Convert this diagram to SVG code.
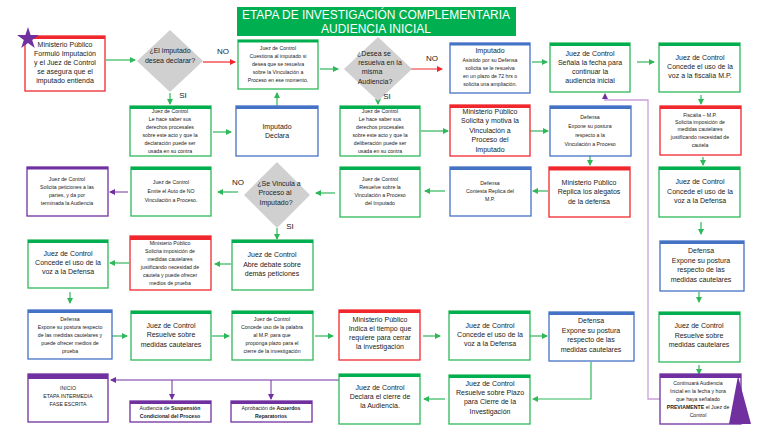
<svg xmlns="http://www.w3.org/2000/svg" width="768" height="433" viewBox="0 0 768 433">
<style>
.b{fill:#fff;stroke-width:1.3}
.g{stroke:#2fb85a}.r{stroke:#f0282d}.u{stroke:#4472c4}.p{stroke:#7030a0}
.gf{fill:#00b050}.rf{fill:#f0282d}.uf{fill:#4472c4}.pf{fill:#7030a0}
text{font-family:"Liberation Sans",Arial,sans-serif;text-anchor:middle;fill:#222}
.t{font-size:7px}.s{font-size:5.2px}.l{font-size:8px}
.d{fill:#d0d0d0}
.ag{stroke:#2fb85a;stroke-width:1.2;fill:none;marker-end:url(#mg)}
.ar{stroke:#f0282d;stroke-width:1.2;fill:none;marker-end:url(#mr)}
.ap{stroke:#7030a0;stroke-width:1;fill:none;marker-end:url(#mp)}
.al{stroke:#c9a0dc;stroke-width:1.3;fill:none;marker-end:url(#mp)}
</style>
<defs>
<marker id="mg" markerWidth="6" markerHeight="6" refX="5" refY="3" orient="auto" markerUnits="userSpaceOnUse"><path d="M0,0L6,3L0,6z" fill="#2fb85a"/></marker>
<marker id="mr" markerWidth="6" markerHeight="6" refX="5" refY="3" orient="auto" markerUnits="userSpaceOnUse"><path d="M0,0L6,3L0,6z" fill="#f0282d"/></marker>
<marker id="mp" markerWidth="6" markerHeight="6" refX="5" refY="3" orient="auto" markerUnits="userSpaceOnUse"><path d="M0,0L6,3L0,6z" fill="#7030a0"/></marker>
</defs>
<rect width="768" height="433" fill="#fff"/>
<g id="title"><rect x="237" y="7" width="279" height="29" class="gf"/>
<text x="376" y="19" style="font-size:12px;fill:#fff" textLength="268" lengthAdjust="spacingAndGlyphs">ETAPA DE INVESTIGACIÓN COMPLEMENTARIA</text>
<text x="376" y="33" style="font-size:12px;fill:#fff">AUDIENCIA INICIAL</text></g>

<g id="connectors">
<path class="ag" d="M106,60H135"/>
<path class="ar" d="M203,62H235"/>
<path class="ag" d="M320,69H338"/>
<path class="ar" d="M408,69H442"/>
<path class="ag" d="M532,62H547"/>
<path class="ag" d="M637,62H654"/>
<path class="ag" d="M170,93V104"/>
<path class="ag" d="M213,132H231"/>
<path class="ag" d="M277,106V93"/>
<path class="ag" d="M378,95V104"/>
<path class="ag" d="M421,131H448"/>
<path class="ag" d="M530,131H548"/>
<path class="ag" d="M590,156V165"/>
<path class="ag" d="M701,95V104"/>
<path class="ap" d="M128,192H110"/>
<path class="ag" d="M238,192H218"/>
<path class="ag" d="M335,193H316"/>
<path class="ag" d="M445,191H425"/>
<path class="ag" d="M548,191H533"/>
<path class="ag" d="M703,157V165"/>
<path class="al" d="M660,399H648V100H605V94"/>
<path class="ag" d="M701,222V234"/>
<path class="ag" d="M699,292V302"/>
<path class="ag" d="M699,365V374"/>
<path class="ag" d="M277,228V239"/>
<path class="ag" d="M231,264H215"/>
<path class="ag" d="M129,263H110"/>
<path class="ag" d="M70,292V303"/>
<path class="ag" d="M112,336H127"/>
<path class="ag" d="M212,336H229"/>
<path class="ag" d="M315,336H333"/>
<path class="ag" d="M423,336H440"/>
<path class="ag" d="M530,336H547"/>
<path class="ag" d="M591,362V399H533"/>
<path class="ag" d="M445,399H424"/>
<path class="ap" d="M339,380H111"/>
<path class="ap" d="M172,380V399"/>
<path class="ap" d="M271,380V399"/>
</g>

<g id="n1"><rect class="b r" x="25" y="36" width="80" height="55"/><rect class="rf" x="25" y="36" width="80" height="3"/>
<text class="t" x="65" y="47">Ministerio Público</text><text class="t" x="65" y="56">Formuló Imputación</text><text class="t" x="65" y="65">y el Juez de Control</text><text class="t" x="65" y="74">se asegura que el</text><text class="t" x="65" y="83">imputado entienda</text>
<path d="M28,27L30.6,35L39,35L32.2,40L34.8,48L28,43L21.2,48L23.8,40L17,35L25.4,35z" fill="#7030a0"/></g>
<g id="d1"><path class="d" d="M170,30L203,61L170,92L137,61z"/><text class="t" x="170" y="53">¿El imputado</text><text class="t" x="170" y="63">desea declarar?</text></g>
<text class="l" x="223" y="54">NO</text><text class="l" x="183" y="98">SI</text>
<g id="n2"><rect class="b g" x="238" y="40" width="80" height="49"/><rect class="gf" x="238" y="40" width="80" height="2.5"/>
<text class="s" x="278" y="50">Juez de Control</text><text class="s" x="278" y="58">Cuestiona al imputado si</text><text class="s" x="278" y="66">desea que se resuelva</text><text class="s" x="278" y="74">sobre la Vinculación a</text><text class="s" x="278" y="82">Proceso en ese momento.</text></g>
<g id="d2"><path class="d" d="M378,37L412,69L378,101L344,69z"/><text class="t" x="374" y="56">¿Desea se</text><text class="t" x="380" y="65">resuelva en la</text><text class="t" x="372" y="74">misma</text><text class="t" x="375" y="84">Audiencia?</text></g>
<text class="l" x="387" y="99">SI</text><text class="l" x="432" y="61">NO</text>
<g id="n3"><rect class="b u" x="450" y="43" width="80" height="50"/><rect class="uf" x="450" y="43" width="80" height="2.5"/>
<text class="t" x="490" y="53">Imputado</text><text class="s" x="490" y="62">Asistido por su Defensa</text><text class="s" x="490" y="70">solicita se le resuelva</text><text class="s" x="490" y="78">en un plazo de 72 hrs o</text><text class="s" x="490" y="86">solicita una ampliación.</text></g>
<g id="n4"><rect class="b g" x="550" y="43" width="80" height="49"/><rect class="gf" x="550" y="43" width="80" height="3"/>
<text class="t" x="590" y="56">Juez de Control</text><text class="t" x="590" y="65">Señala la fecha para</text><text class="t" x="590" y="74">continuar la</text><text class="t" x="590" y="83">audiencia inicial</text></g>
<g id="n5"><rect class="b g" x="659" y="43" width="81" height="49"/><rect class="gf" x="659" y="43" width="81" height="3"/>
<text class="t" x="700" y="60">Juez de Control</text><text class="t" x="700" y="69">Concede el uso de la</text><text class="t" x="700" y="78">voz a la fiscalía M.P.</text></g>

<g id="n6"><rect class="b g" x="130" y="106" width="81" height="50"/><rect class="gf" x="130" y="106" width="81" height="3"/>
<text class="s" x="170" y="113">Juez de Control</text><text class="s" x="170" y="121">Le hace saber sus</text><text class="s" x="170" y="129">derechos procesales</text><text class="s" x="170" y="137">sobre este acto y que la</text><text class="s" x="170" y="145">declaración puede ser</text><text class="s" x="170" y="153">usada en su contra</text></g>
<g id="n7"><rect class="b u" x="236" y="106" width="82" height="50"/><rect class="uf" x="236" y="106" width="82" height="3"/>
<text class="t" x="277" y="129">Imputado</text><text class="t" x="277" y="138">Declara</text></g>
<g id="n8"><rect class="b g" x="340" y="106" width="80" height="50"/><rect class="gf" x="340" y="106" width="80" height="3"/>
<text class="s" x="380" y="113">Juez de Control</text><text class="s" x="380" y="121">Le hace saber sus</text><text class="s" x="380" y="129">derechos procesales</text><text class="s" x="380" y="137">sobre este acto y que la</text><text class="s" x="380" y="145">deliberación puede ser</text><text class="s" x="380" y="153">usada en su contra</text></g>
<g id="n9"><rect class="b r" x="450" y="105" width="80" height="51"/><rect class="rf" x="450" y="105" width="80" height="3"/>
<text class="t" x="490" y="114">Ministerio Público</text><text class="t" x="490" y="123">Solicita y motiva la</text><text class="t" x="490" y="133">Vinculación a</text><text class="t" x="490" y="142">Proceso del</text><text class="t" x="490" y="152">Imputado</text></g>
<g id="n10"><rect class="b u" x="550" y="106" width="81" height="50"/><rect class="uf" x="550" y="106" width="81" height="3"/>
<text class="s" x="590" y="119">Defensa</text><text class="s" x="590" y="128">Expone su postura</text><text class="s" x="590" y="137">respecto a la</text><text class="s" x="590" y="146">Vinculación a Proceso</text></g>
<g id="n11"><rect class="b r" x="660" y="106" width="81" height="49"/><rect class="rf" x="660" y="106" width="81" height="3"/>
<text class="s" x="700" y="117">Fiscalía – M.P.</text><text class="s" x="700" y="124">Solicita imposición de</text><text class="s" x="700" y="131">medidas cautelares</text><text class="s" x="700" y="139">justificando necesidad de</text><text class="s" x="700" y="147">cautela</text></g>

<g id="n12"><rect class="b p" x="27" y="167" width="81" height="49"/><rect class="pf" x="27" y="167" width="81" height="2.5"/>
<text class="s" x="67" y="181">Juez de Control</text><text class="s" x="67" y="189">Solicita peticiones a las</text><text class="s" x="67" y="197">partes, y da por</text><text class="s" x="67" y="205">terminada la Audiencia</text></g>
<g id="n13"><rect class="b g" x="131" y="167" width="80" height="49"/><rect class="gf" x="131" y="167" width="80" height="3"/>
<text class="s" x="171" y="184">Juez de Control</text><text class="s" x="171" y="193">Emite el Auto de NO</text><text class="s" x="171" y="202">Vinculación a Proceso.</text></g>
<text class="l" x="238" y="185">NO</text>
<g id="d3"><path class="d" d="M277,162L310,195L277,228L244,195z"/><text class="t" x="279" y="186">¿Se Vincula a</text><text class="t" x="275" y="195">Proceso al</text><text class="t" x="276" y="205">Imputado?</text></g>
<text class="l" x="290" y="229">SI</text>
<g id="n14"><rect class="b g" x="340" y="167" width="80" height="50"/><rect class="gf" x="340" y="167" width="80" height="3"/>
<text class="s" x="380" y="181">Juez de Control</text><text class="s" x="380" y="189">Resuelve sobre la</text><text class="s" x="380" y="197">Vinculación a Proceso</text><text class="s" x="380" y="205">del Imputado</text></g>
<g id="n15"><rect class="b u" x="450" y="167" width="81" height="49"/><rect class="uf" x="450" y="167" width="81" height="3"/>
<text class="s" x="490" y="185">Defensa</text><text class="s" x="490" y="193">Contesta Replica del</text><text class="s" x="490" y="201">M.P.</text></g>
<g id="n16"><rect class="b r" x="549" y="167" width="81" height="50"/><rect class="rf" x="549" y="167" width="81" height="3.5"/>
<text class="t" x="589" y="185">Ministerio Público</text><text class="t" x="589" y="194">Replica los alegatos</text><text class="t" x="589" y="204">de la defensa</text></g>
<g id="n17"><rect class="b g" x="659" y="167" width="81" height="50"/><rect class="gf" x="659" y="167" width="81" height="3"/>
<text class="t" x="700" y="184">Juez de Control</text><text class="t" x="700" y="194">Concede el uso de la</text><text class="t" x="700" y="203">voz a la Defensa</text></g>

<g id="n18"><rect class="b g" x="232" y="240" width="81" height="50"/><rect class="gf" x="232" y="240" width="81" height="3"/>
<text class="t" x="272" y="257">Juez de Control</text><text class="t" x="272" y="267">Abre debate sobre</text><text class="t" x="272" y="276">demás peticiones</text></g>
<g id="n19"><rect class="b r" x="130" y="236" width="81" height="54"/><rect class="rf" x="130" y="236" width="81" height="4"/>
<text class="s" x="170" y="245">Ministerio Público</text><text class="s" x="170" y="253">Solicita imposición de</text><text class="s" x="170" y="261">medidas cautelares</text><text class="s" x="170" y="269">justificando necesidad de</text><text class="s" x="170" y="277">cautela y puede ofrecer</text><text class="s" x="170" y="285">medios de prueba</text></g>
<g id="n20"><rect class="b g" x="28" y="240" width="80" height="48"/><rect class="gf" x="28" y="240" width="80" height="3"/>
<text class="t" x="68" y="256">Juez de Control</text><text class="t" x="68" y="265">Concede el uso de la</text><text class="t" x="68" y="274">voz a la Defensa</text></g>
<g id="n21"><rect class="b u" x="660" y="241" width="84" height="50"/><rect class="uf" x="660" y="241" width="84" height="3"/>
<text class="t" x="701" y="253">Defensa</text><text class="t" x="701" y="263">Expone su postura</text><text class="t" x="701" y="272">respecto de las</text><text class="t" x="701" y="282">medidas cautelares</text></g>

<g id="n22"><rect class="b u" x="28" y="310" width="84" height="49"/><rect class="uf" x="28" y="310" width="84" height="3"/>
<text class="s" x="70" y="321">Defensa</text><text class="s" x="70" y="329">Expone su postura respecto</text><text class="s" x="70" y="337">de las medidas cautelares y</text><text class="s" x="70" y="345">puede ofrecer medios de</text><text class="s" x="70" y="353">prueba</text></g>
<g id="n23"><rect class="b g" x="131" y="311" width="80" height="49"/><rect class="gf" x="131" y="311" width="80" height="3"/>
<text class="t" x="171" y="328">Juez de Control</text><text class="t" x="171" y="337">Resuelve sobre</text><text class="t" x="171" y="347">medidas cautelares</text></g>
<g id="n24"><rect class="b g" x="232" y="311" width="81" height="49"/><rect class="gf" x="232" y="311" width="81" height="3"/>
<text class="s" x="272" y="321">Juez de Control</text><text class="s" x="272" y="329">Concede uso de la palabra</text><text class="s" x="272" y="337">al M.P. para que</text><text class="s" x="272" y="345">proponga plazo para el</text><text class="s" x="272" y="353">cierre de la investigación</text></g>
<g id="n25"><rect class="b r" x="339" y="310" width="81" height="50"/><rect class="rf" x="339" y="310" width="81" height="3"/>
<text class="t" x="380" y="322">Ministerio Público</text><text class="t" x="380" y="331">Indica el tiempo que</text><text class="t" x="380" y="340">requiere para cerrar</text><text class="t" x="380" y="349">la investigación</text></g>
<g id="n26"><rect class="b g" x="449" y="311" width="81" height="49"/><rect class="gf" x="449" y="311" width="81" height="3"/>
<text class="t" x="490" y="328">Juez de Control</text><text class="t" x="490" y="337">Concede el uso de la</text><text class="t" x="490" y="346">voz a la Defensa</text></g>
<g id="n27"><rect class="b u" x="549" y="312" width="85" height="49"/><rect class="uf" x="549" y="312" width="85" height="3"/>
<text class="t" x="591" y="323">Defensa</text><text class="t" x="591" y="333">Expone su postura</text><text class="t" x="591" y="342">respecto de las</text><text class="t" x="591" y="352">medidas cautelares</text></g>
<g id="n28"><rect class="b g" x="659" y="312" width="81" height="50"/><rect class="gf" x="659" y="312" width="81" height="3"/>
<text class="t" x="699" y="328">Juez de Control</text><text class="t" x="699" y="338">Resuelve sobre</text><text class="t" x="699" y="347">medidas cautelares</text></g>

<g id="n29"><rect class="b p" x="28" y="374" width="80" height="48"/><rect class="pf" x="28" y="374" width="80" height="5"/>
<text class="s" x="68" y="390">INICIO</text><text class="s" x="68" y="398">ETAPA INTERMEDIA</text><text class="s" x="68" y="406">FASE ESCRITA</text></g>
<g id="n30"><rect class="b p" x="130" y="401" width="81" height="21"/><rect class="pf" x="130" y="401" width="81" height="3"/>
<text class="s" x="170" y="410">Audiencia de <tspan font-weight="bold">Suspensión</tspan></text><text class="s" x="170" y="418" font-weight="bold">Condicional del Proceso</text></g>
<g id="n31"><rect class="b p" x="231" y="401" width="81" height="21"/><rect class="pf" x="231" y="401" width="81" height="3"/>
<text class="s" x="271" y="410">Aprobación de <tspan font-weight="bold">Acuerdos</tspan></text><text class="s" x="271" y="418" font-weight="bold">Reparatorios</text></g>
<g id="n32"><rect class="b g" x="339" y="374" width="81" height="50"/><rect class="gf" x="339" y="374" width="81" height="3"/>
<text class="t" x="380" y="390">Juez de Control</text><text class="t" x="380" y="399">Declara el cierre de</text><text class="t" x="380" y="408">la Audiencia.</text></g>
<g id="n33"><rect class="b g" x="449" y="375" width="81" height="49"/><rect class="gf" x="449" y="375" width="81" height="3"/>
<text class="t" x="490" y="386">Juez de Control</text><text class="t" x="490" y="395">Resuelve sobre Plazo</text><text class="t" x="490" y="404">para Cierre de la</text><text class="t" x="490" y="414">Investigación</text></g>
<g id="n34"><rect class="b p" x="660" y="374" width="81" height="50"/><rect class="pf" x="660" y="374" width="81" height="4"/>
<text class="s" x="698" y="385">Continuará Audiencia</text><text class="s" x="698" y="393">Inicial en la fecha y hora</text><text class="s" x="698" y="401">que haya señalado</text><text class="s" x="698" y="409"><tspan font-weight="bold">PREVIAMENTE</tspan> el Juez de</text><text class="s" x="698" y="417">Control</text>
<path d="M738,376L751,424L729,424z" fill="#7030a0"/></g>
</svg>
